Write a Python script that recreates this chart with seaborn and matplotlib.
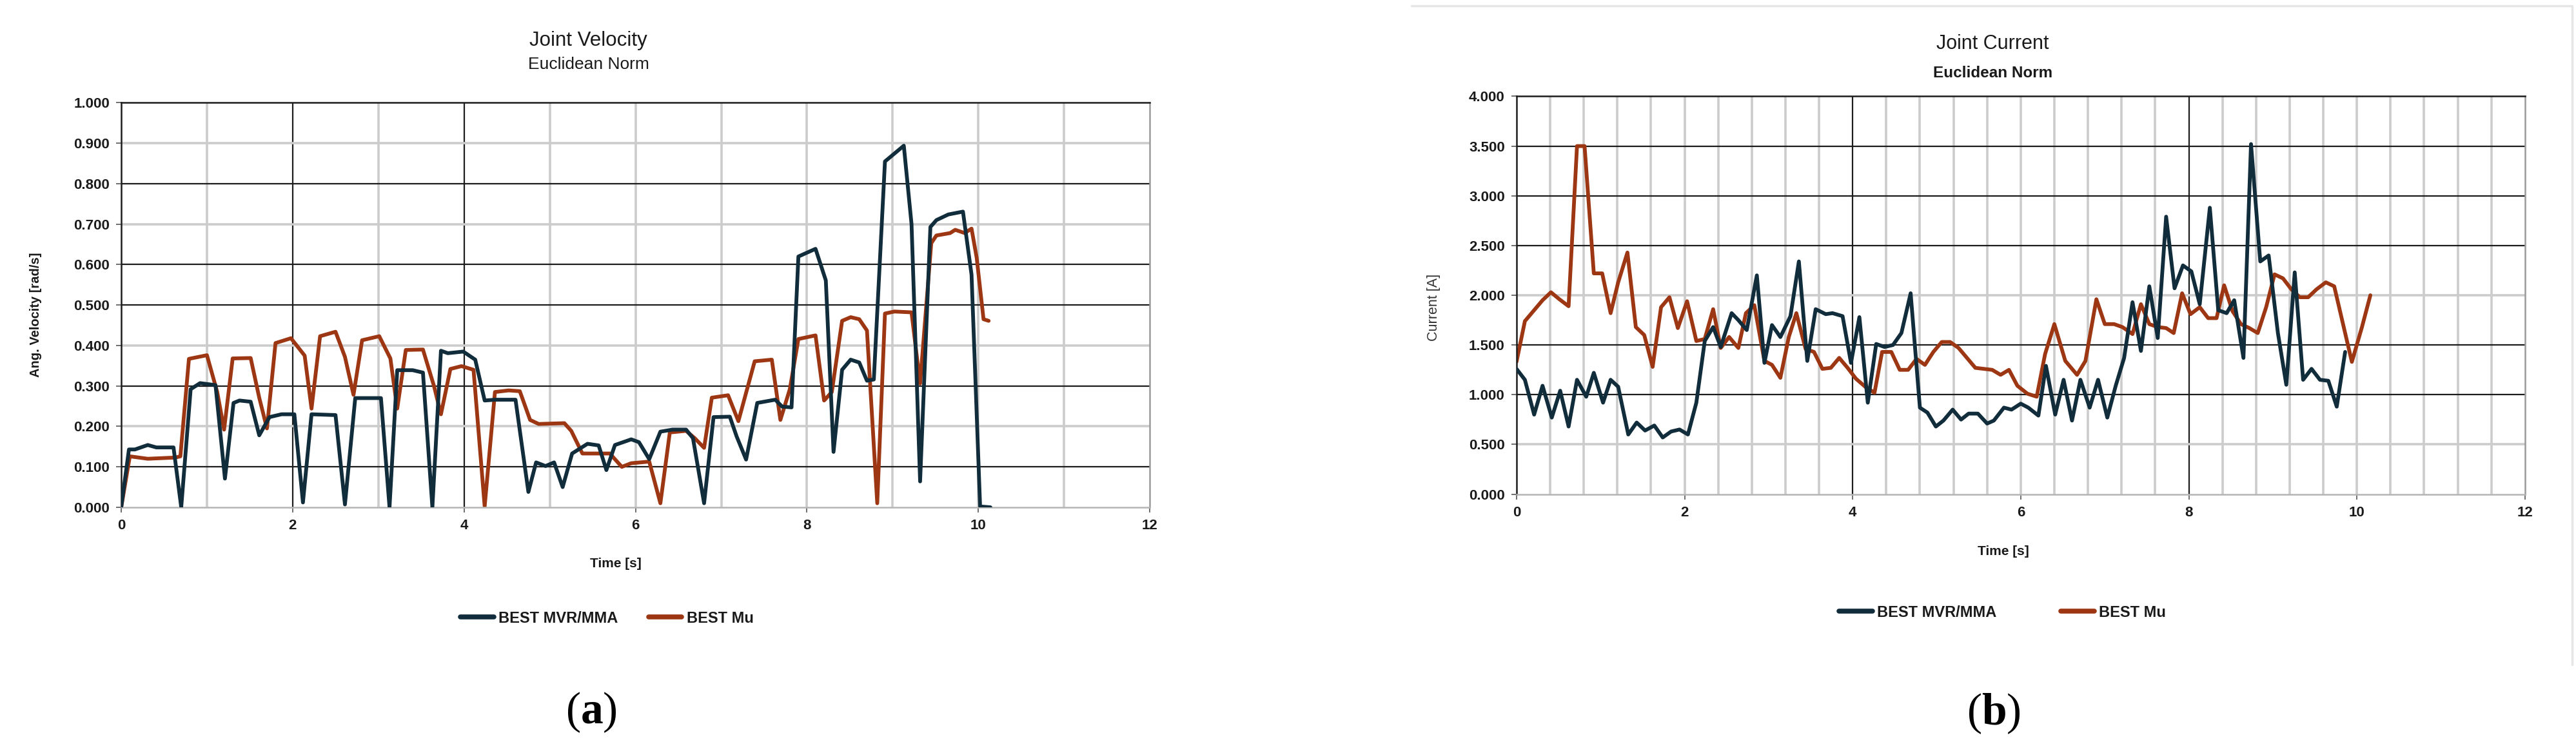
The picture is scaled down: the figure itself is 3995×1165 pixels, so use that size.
import numpy as np
import pandas as pd
import matplotlib
matplotlib.use("Agg")
import matplotlib.pyplot as plt
from matplotlib.lines import Line2D
import seaborn as sns

sns.set_theme(style="white")
plt.rcParams["font.family"] = ["Liberation Sans", "DejaVu Sans"]

# ---- (a) joint velocity, euclidean norm ----
tempo_vel_mvr = [0, 0.09, 0.16, 0.31, 0.41, 0.61, 0.70, 0.81, 0.92, 1.10, 1.21, 1.31, 1.38, 1.51,
                 1.61, 1.73, 1.87, 2.02, 2.12, 2.22, 2.50, 2.61, 2.73, 3.03, 3.13, 3.22, 3.40, 3.52,
                 3.63, 3.73, 3.81, 3.99, 4.13, 4.24, 4.36, 4.60, 4.75, 4.84, 4.95, 5.05, 5.15, 5.26,
                 5.44, 5.57, 5.66, 5.76, 5.95, 6.04, 6.16, 6.29, 6.43, 6.59, 6.67, 6.80, 6.91, 7.10,
                 7.18, 7.29, 7.42, 7.63, 7.71, 7.82, 7.90, 8.10, 8.22, 8.31, 8.41, 8.51, 8.61, 8.70,
                 8.78, 8.91, 9.13, 9.22, 9.32, 9.44, 9.51, 9.65, 9.82, 9.92, 10.02, 10.14]
vel_mvr = [0.0, 0.143, 0.143, 0.154, 0.148, 0.148, 0.0, 0.292, 0.307, 0.302, 0.071, 0.258, 0.264, 0.261,
           0.178, 0.223, 0.23, 0.23, 0.012, 0.23, 0.228, 0.007, 0.27, 0.27, 0.0, 0.339, 0.339, 0.333,
           0.0, 0.387, 0.381, 0.385, 0.365, 0.264, 0.266, 0.266, 0.038, 0.111, 0.102, 0.111, 0.05, 0.133,
           0.157, 0.153, 0.092, 0.154, 0.168, 0.161, 0.119, 0.187, 0.192, 0.192, 0.171, 0.01, 0.223, 0.224,
           0.175, 0.118, 0.258, 0.266, 0.249, 0.247, 0.62, 0.639, 0.561, 0.137, 0.34, 0.365, 0.358, 0.313,
           0.316, 0.855, 0.894, 0.70, 0.064, 0.693, 0.71, 0.724, 0.731, 0.575, 0.002, 0.0]

tempo_vel_mu = [0, 0.10, 0.31, 0.63, 0.69, 0.79, 1.00, 1.12, 1.20, 1.30, 1.51, 1.61, 1.70, 1.80, 1.98,
                2.14, 2.22, 2.32, 2.50, 2.61, 2.71, 2.81, 3.01, 3.14, 3.22, 3.32, 3.52, 3.65, 3.73, 3.84,
                3.97, 4.11, 4.24, 4.36, 4.52, 4.65, 4.77, 4.87, 5.17, 5.25, 5.38, 5.70, 5.84, 5.95, 6.16,
                6.29, 6.40, 6.59, 6.69, 6.80, 6.89, 7.08, 7.20, 7.39, 7.59, 7.69, 7.80, 7.90, 8.10, 8.20,
                8.29, 8.41, 8.51, 8.61, 8.70, 8.82, 8.91, 9.02, 9.22, 9.32, 9.45, 9.51, 9.67, 9.73, 9.84,
                9.92, 9.98, 10.06, 10.12]
vel_mu = [0, 0.126, 0.12, 0.123, 0.126, 0.367, 0.376, 0.285, 0.192, 0.368, 0.369, 0.271, 0.195, 0.406, 0.418,
          0.375, 0.244, 0.423, 0.434, 0.372, 0.278, 0.413, 0.423, 0.368, 0.244, 0.389, 0.39, 0.299, 0.23, 0.342,
          0.349, 0.34, 0.002, 0.285, 0.289, 0.287, 0.216, 0.206, 0.208, 0.189, 0.133, 0.133, 0.1, 0.109, 0.113,
          0.01, 0.185, 0.189, 0.171, 0.147, 0.271, 0.277, 0.213, 0.361, 0.365, 0.216, 0.292, 0.416, 0.425, 0.264,
          0.285, 0.461, 0.47, 0.465, 0.437, 0.01, 0.479, 0.484, 0.482, 0.306, 0.653, 0.672, 0.678, 0.686, 0.678,
          0.689, 0.617, 0.465, 0.461]

# ---- (b) joint current, euclidean norm ----
tempo_cur_mvr = [0, 0.10, 0.21, 0.31, 0.42, 0.52, 0.62, 0.72, 0.83, 0.92,
                 1.03, 1.12, 1.21, 1.33, 1.43, 1.53, 1.64, 1.74, 1.84, 1.94,
                 2.04, 2.14, 2.24, 2.34, 2.43, 2.56, 2.64, 2.74, 2.86, 2.95,
                 3.04, 3.14, 3.26, 3.36, 3.46, 3.56, 3.68, 3.76, 3.88, 3.98,
                 4.08, 4.18, 4.28, 4.38, 4.48, 4.58, 4.69, 4.80, 4.89, 4.99,
                 5.08, 5.19, 5.29, 5.38, 5.49, 5.60, 5.68, 5.80, 5.89, 6.00,
                 6.09, 6.21, 6.30, 6.41, 6.51, 6.61, 6.71, 6.82, 6.92, 7.03,
                 7.13, 7.23, 7.33, 7.43, 7.53, 7.63, 7.73, 7.83, 7.93, 8.03,
                 8.13, 8.25, 8.35, 8.45, 8.54, 8.65, 8.74, 8.85, 8.95, 9.06,
                 9.16, 9.26, 9.36, 9.46, 9.56, 9.66, 9.76, 9.86]
cur_mvr = [1.26, 1.15, 0.80, 1.09, 0.77, 1.04, 0.68, 1.15, 0.98, 1.22,
           0.92, 1.15, 1.08, 0.60, 0.72, 0.64, 0.69, 0.57, 0.63, 0.65,
           0.60, 0.92, 1.54, 1.68, 1.48, 1.82, 1.75, 1.65, 2.20, 1.32,
           1.70, 1.58, 1.79, 2.34, 1.34, 1.86, 1.81, 1.82, 1.79, 1.32,
           1.78, 0.92, 1.51, 1.48, 1.50, 1.62, 2.02, 0.87, 0.82, 0.68,
           0.74, 0.85, 0.75, 0.81, 0.81, 0.71, 0.74, 0.87, 0.85, 0.91,
           0.87, 0.79, 1.29, 0.80, 1.15, 0.74, 1.15, 0.87, 1.15, 0.77,
           1.09, 1.37, 1.93, 1.44, 2.09, 1.57, 2.79, 2.07, 2.30, 2.24,
           1.91, 2.88, 1.85, 1.82, 1.95, 1.37, 3.52, 2.34, 2.40, 1.62,
           1.10, 2.23, 1.15, 1.26, 1.15, 1.14, 0.88, 1.43]

tempo_cur_mu = [0, 0.10, 0.21, 0.31, 0.41, 0.51, 0.62, 0.72, 0.81, 0.92,
                1.02, 1.12, 1.21, 1.32, 1.42, 1.52, 1.62, 1.72, 1.82, 1.92,
                2.03, 2.14, 2.24, 2.34, 2.43, 2.53, 2.64, 2.73, 2.83, 2.95,
                3.04, 3.14, 3.24, 3.33, 3.44, 3.54, 3.64, 3.74, 3.84, 3.94,
                4.04, 4.15, 4.26, 4.35, 4.46, 4.56, 4.66, 4.76, 4.86, 4.96,
                5.06, 5.16, 5.26, 5.36, 5.46, 5.56, 5.66, 5.76, 5.86, 5.96,
                6.08, 6.19, 6.29, 6.40, 6.53, 6.67, 6.77, 6.90, 7.00, 7.11,
                7.21, 7.33, 7.43, 7.53, 7.63, 7.73, 7.82, 7.92, 8.02, 8.13,
                8.23, 8.33, 8.42, 8.52, 8.62, 8.72, 8.82, 8.92, 9.02, 9.12,
                9.22, 9.32, 9.42, 9.52, 9.63, 9.73, 9.94, 10.06, 10.16]
cur_mu = [1.33, 1.74, 1.85, 1.95, 2.03, 1.96, 1.89, 3.50, 3.50, 2.22,
          2.22, 1.82, 2.13, 2.43, 1.68, 1.60, 1.28, 1.88, 1.98, 1.67,
          1.94, 1.54, 1.56, 1.86, 1.47, 1.58, 1.47, 1.82, 1.90, 1.34,
          1.30, 1.17, 1.58, 1.82, 1.46, 1.43, 1.26, 1.27, 1.37, 1.27,
          1.16, 1.08, 1.02, 1.43, 1.43, 1.25, 1.25, 1.36, 1.30, 1.43,
          1.53, 1.53, 1.47, 1.37, 1.27, 1.26, 1.25, 1.20, 1.25, 1.09,
          1.01, 0.98, 1.41, 1.71, 1.34, 1.20, 1.34, 1.96, 1.71, 1.71,
          1.68, 1.61, 1.91, 1.71, 1.68, 1.67, 1.62, 2.02, 1.81, 1.88,
          1.77, 1.77, 2.10, 1.84, 1.71, 1.67, 1.62, 1.88, 2.21, 2.17,
          2.06, 1.98, 1.98, 2.06, 2.13, 2.09, 1.33, 1.68, 2.00]

nomes_series = ["BEST MVR/MMA", "BEST Mu"]
cores = ["#112c3b", "#9c3613"]

ESCURO = "#1c1c1c"
CLARO = "#cccccc"
TEXTO = "#1a1a1a"


def desenhar_grade(ax, valores_x, valores_y, escuros_x, escuros_y):
    # grade em dois tons, como no print original
    for v in valores_x:
        escuro = any(np.isclose(v, e) for e in escuros_x)
        ax.axvline(v, color=ESCURO if escuro else CLARO, lw=1.6 if escuro else 2.6, zorder=0.5)
    for v in valores_y:
        escuro = any(np.isclose(v, e) for e in escuros_y)
        ax.axhline(v, color=ESCURO if escuro else CLARO, lw=1.6 if escuro else 2.6, zorder=0.5)


def painel(ax, tempo_a, serie_a, tempo_b, serie_b, ymax, passo_y):
    df_a = pd.DataFrame({"tempo": tempo_a, "valor": serie_a})
    df_b = pd.DataFrame({"tempo": tempo_b, "valor": serie_b})
    sns.lineplot(data=df_a, x="tempo", y="valor", ax=ax, color=cores[0], lw=4.2,
                 label=nomes_series[0], estimator=None, sort=False, legend=False, zorder=3)
    sns.lineplot(data=df_b, x="tempo", y="valor", ax=ax, color=cores[1], lw=4.2,
                 label=nomes_series[1], estimator=None, sort=False, legend=False, zorder=2)
    ax.set_xlim(0, 12)
    ax.set_ylim(0, ymax)
    ax.set_xticks(np.arange(0, 13, 2))
    niveis = np.arange(0, ymax + 1e-9, passo_y)
    ax.set_yticks(niveis)
    ax.set_yticklabels([f"{v:.3f}" for v in niveis])
    ax.set_xlabel("")
    ax.set_ylabel("")
    ax.tick_params(axis="both", length=6, width=1.2, color="#555555", direction="out",
                   labelsize=16, labelcolor=TEXTO, pad=7, left=True, bottom=True)
    for lbl in ax.get_xticklabels() + ax.get_yticklabels():
        lbl.set_fontweight("bold")
    ax.spines["left"].set_color(ESCURO)
    ax.spines["top"].set_color(ESCURO)
    ax.spines["right"].set_color("#9a9a9a")
    ax.spines["bottom"].set_color("#b5b5b5")
    for s in ax.spines.values():
        s.set_linewidth(1.8)
    ax.set_facecolor("white")


fig = plt.figure(figsize=(39.95, 11.65), dpi=100)
ax_vel = fig.add_axes([0.04706, 0.3245, 0.3993, 0.5386])
ax_cur = fig.add_axes([0.5887, 0.3420, 0.3915, 0.5297])

painel(ax_vel, tempo_vel_mvr, vel_mvr, tempo_vel_mu, vel_mu, 1.0, 0.1)
desenhar_grade(ax_vel, np.arange(1, 12, 1), np.arange(0.1, 1.0, 0.1),
               escuros_x=[2, 4], escuros_y=[0.1, 0.3, 0.5, 0.6, 0.8])

painel(ax_cur, tempo_cur_mvr, cur_mvr, tempo_cur_mu, cur_mu, 4.0, 0.5)
desenhar_grade(ax_cur, np.arange(0.4, 12, 0.4), np.arange(0.5, 4.0, 0.5),
               escuros_x=[4, 8], escuros_y=[1.0, 1.5, 2.5, 3.0, 3.5])

# moldura clara do painel (b) no print
fig.add_artist(Line2D([0.548, 0.9985, 0.9985], [0.992, 0.992, 0.115],
                      transform=fig.transFigure, color="#e6e6e6", lw=2.5))

# titulos
fig.text(0.2285, 0.946, "Joint Velocity", ha="center", va="center", fontsize=22.5, color=TEXTO)
fig.text(0.2285, 0.914, "Euclidean Norm", ha="center", va="center", fontsize=19, color=TEXTO)
fig.text(0.7735, 0.942, "Joint Current", ha="center", va="center", fontsize=22, color=TEXTO)
fig.text(0.7735, 0.903, "Euclidean Norm", ha="center", va="center", fontsize=17.5,
         fontweight="bold", color=TEXTO)

# rotulos dos eixos
fig.text(0.239, 0.249, "Time [s]", ha="center", va="center", fontsize=15, fontweight="bold", color=TEXTO)
fig.text(0.7777, 0.266, "Time [s]", ha="center", va="center", fontsize=15, fontweight="bold", color=TEXTO)
fig.text(0.0138, 0.581, "Ang. Velocity [rad/s]", ha="center", va="center", rotation=90,
         fontsize=14.5, fontweight="bold", color=TEXTO)
fig.text(0.5565, 0.591, "Current [A]", ha="center", va="center", rotation=90,
         fontsize=15.5, color="#333333")

# legendas
handles_vel, _ = ax_vel.get_legend_handles_labels()
leg_a = fig.legend(handles_vel, nomes_series, loc="center", bbox_to_anchor=(0.2356, 0.1768), ncol=2,
                   frameon=False, fontsize=17, handlelength=2.2, handletextpad=0.3, columnspacing=2.0)
handles_cur, _ = ax_cur.get_legend_handles_labels()
leg_b = fig.legend(handles_cur, nomes_series, loc="center", bbox_to_anchor=(0.7773, 0.1845), ncol=2,
                   frameon=False, fontsize=17, handlelength=2.2, handletextpad=0.3, columnspacing=4.2)
for leg in (leg_a, leg_b):
    for txt in leg.get_texts():
        txt.set_fontweight("bold")
        txt.set_color(TEXTO)
    for ln in leg.get_lines():
        ln.set_linewidth(5.5)

# (a) e (b)
plt.rcParams["mathtext.fontset"] = "custom"
plt.rcParams["mathtext.bf"] = "Liberation Serif:bold"
fig.text(0.2295, 0.0515, r"($\mathbf{a}$)", ha="center", va="center", fontsize=50,
         family=["Liberation Serif", "DejaVu Serif"], color="black")
fig.text(0.774, 0.050, r"($\mathbf{b}$)", ha="center", va="center", fontsize=50,
         family=["Liberation Serif", "DejaVu Serif"], color="black")

fig.savefig("out.png", dpi=100, facecolor="white")
